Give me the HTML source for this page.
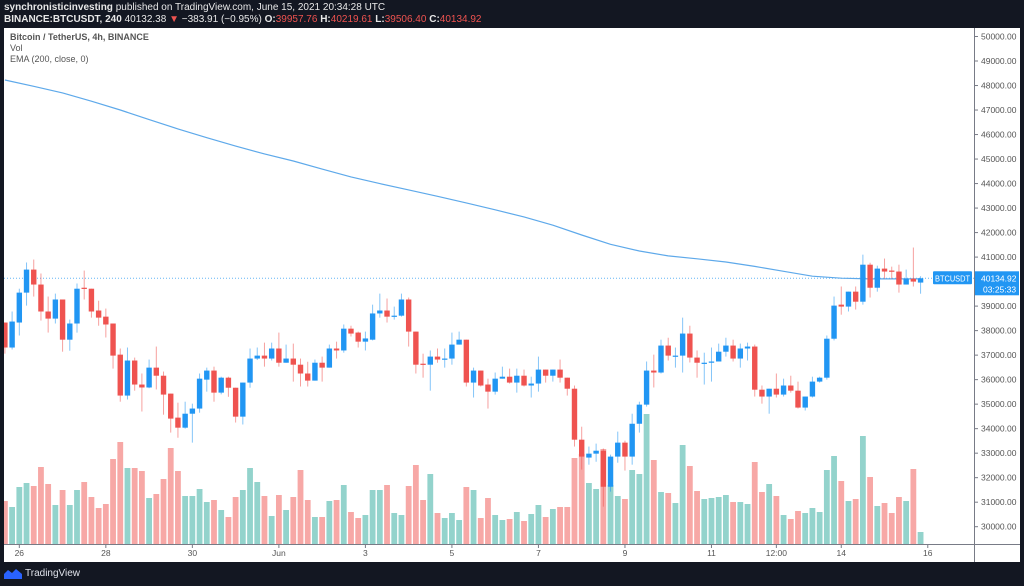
<!DOCTYPE html>
<html><head><meta charset="utf-8"><style>
html,body{margin:0;padding:0;background:#131722;width:1024px;height:586px;overflow:hidden;font-family:"Liberation Sans",sans-serif}
#hdr{position:absolute;left:4px;top:2px;color:#e8e8e8;font-size:10px;line-height:12px;white-space:nowrap}
.r{color:#ef5350}
#panel{position:absolute;left:4px;top:28px;width:1016px;height:534px;background:#fff}
svg{position:absolute;left:0;top:0}
#foot{position:absolute;left:4px;top:568px;color:#e0e3eb;font-size:10px;display:flex;align-items:center;gap:3px}
</style></head><body>
<div id="hdr"><div><b>synchronisticinvesting</b> published on TradingView.com, June 15, 2021 20:34:28 UTC</div><div><b>BINANCE:BTCUSDT, 240</b> 40132.38 <span class="r">▼</span> −383.91 (−0.95%) <b>O:</b><span class="r">39957.76</span> <b>H:</b><span class="r">40219.61</span> <b>L:</b><span class="r">39506.40</span> <b>C:</b><span class="r">40134.92</span></div></div>
<div id="panel"></div>
<svg id="chart" width="1024" height="586"></svg>
<div id="foot"><svg style="position:static" width="18" height="11" viewBox="0 0 18 11"><path d="M0 11 L0 6 L4 2 L8 5 L12 1 L18 6 L18 11 Z" fill="#2962ff"/></svg><span>TradingView</span></div>
<script>
const opens=[38330,37310,38330,39550,40490,39880,38780,38490,39270,37630,38290,39750,39710,38820,38570,38290,37020,35350,36780,35800,35680,36490,36160,35430,34450,34040,34610,34820,36000,36370,35470,36080,35670,34490,35880,36860,36980,36860,37270,36690,36860,36610,36250,35960,36690,36490,37270,37190,38080,37920,37550,37630,38700,38820,38570,38610,39270,37960,36650,36610,36940,36820,36860,37430,37630,35880,36370,35800,35510,36040,36120,35880,36160,35760,35840,36410,36160,36410,36080,35630,33550,32820,32980,33100,31630,32860,33430,32860,34200,34980,36370,36290,37390,36940,36980,37880,36900,36650,36690,36740,37140,37390,36860,37270,37350,35590,35310,35630,35390,35760,35550,34860,35310,35920,36080,37670,39060,38980,39590,39180,40690,39750,40530,40450,40410,39880,40120,39960];
const closes=[37310,38370,39550,40490,39880,38780,38490,39270,37630,38290,39710,39700,38780,38530,38250,36980,35350,36780,35800,35680,36490,36160,35390,34410,34040,34610,34820,36040,36370,35470,36080,35670,34490,35880,36860,36980,36860,37270,36690,36860,36610,36250,35960,36690,36490,37270,37190,38080,37880,37550,37680,38700,38820,38570,38610,39270,37960,36610,36610,36940,36820,36860,37430,37630,35880,36370,35760,35510,36040,36120,35880,36160,35760,35840,36410,36160,36410,36080,35630,33550,32860,32980,33100,31630,32860,33430,32860,34200,34980,36370,36290,37390,36980,36980,37880,36900,36690,36690,36740,37140,37390,36860,37270,37350,35590,35310,35630,35390,35760,35550,34860,35310,35920,36080,37670,39020,38980,39590,39180,40690,39750,40530,40410,40410,39880,40120,40000,40135];
const highs=[38330,38780,39710,40780,40900,40330,39390,39510,39270,38450,39920,40450,39710,39220,38900,38290,37270,37310,36900,36250,36820,37350,36330,35430,35060,35100,35020,36250,36490,36530,36120,36120,35670,35880,37270,37310,37510,37510,37920,37430,37470,36860,36730,36820,36940,37430,37550,38250,38200,37960,37960,39060,39510,39310,38980,39510,39350,37960,37060,37190,37270,37270,37920,37960,37630,36490,36370,36040,36290,36530,36450,36450,36410,36120,36940,36410,36410,36820,36080,35760,34080,33270,33390,33190,32940,33880,33510,34610,35100,36740,37020,37630,37710,37310,38530,38200,37190,37100,37310,37470,37710,37630,37470,37510,37430,35760,35630,36250,36040,36160,35920,35310,36120,36120,37800,39390,39800,39590,39800,41100,40770,40650,40940,40610,40690,40490,41390,40220];
const lows=[37060,37230,37800,39020,39390,38410,37920,38290,37140,37180,37920,39270,38530,38200,37720,36450,35100,35190,35550,34700,35650,35600,34570,33840,33630,34000,33430,34650,35510,35100,35400,35300,34250,34170,35670,36800,36530,36780,36530,36690,35920,35720,35720,35960,35920,36490,36860,37100,37760,37310,37190,37600,38530,38330,38450,38570,37350,36250,36080,35550,36690,36490,36610,37430,35720,35270,35720,34820,35390,36040,35840,35470,35720,35270,35510,35880,35920,35880,35350,33270,32330,32530,32650,30820,31430,32610,32290,32530,33840,34900,35680,36250,36780,36490,36290,36700,36080,35800,35920,36740,36940,36740,36490,36780,35310,35020,34610,35270,35310,35470,34820,34740,35270,35880,36000,37600,38650,38780,38860,39060,39350,39590,40120,40120,39550,39880,39800,39506];
const volumes=[43,37,57,61,58,77,60,39,54,39,54,62,47,36,40,85,102,76,76,73,46,50,65,96,73,48,48,55,42,44,34,27,47,54,76,62,48,28,49,34,47,74,44,27,27,43,44,59,32,26,29,54,54,59,31,29,58,79,44,70,31,26,31,24,57,54,26,46,29,24,25,32,23,30,39,27,35,37,37,86,90,61,55,95,59,48,45,74,70,130,84,52,51,41,99,78,53,45,46,47,49,42,42,40,82,52,60,48,29,25,33,31,36,32,74,88,63,43,45,108,67,38,41,31,47,43,75,12];
const emaIdx=[0,4,8,12,16,20,24,28,32,36,40,44,48,52,56,60,64,68,72,76,80,84,88,92,96,100,104,108,112,116,120,124,127];
const emaVal=[48225,47970,47700,47360,47000,46610,46230,45870,45530,45210,44920,44590,44270,44000,43740,43480,43210,42930,42640,42300,41900,41520,41250,41050,40930,40800,40620,40420,40220,40140,40110,40110,40110];
const priceTicks=[30000,31000,32000,33000,34000,35000,36000,37000,38000,39000,40000,41000,42000,43000,44000,45000,46000,47000,48000,49000,50000];
const timeLabels=["26","28","30","Jun","3","5","7","9","11","12:00","14","16"];
const timeIdx=[2,14,26,38,50,62,74,86,98,107,116,128];
const lastPrice=40134.92;

const NS="http://www.w3.org/2000/svg";
const svg=document.getElementById('chart');
const X=i=>4.9+i*7.21;
const Y=p=>281.6-(p-40000)/40.8;
const V=v=>544-v;
function mk(tag,attrs,parent){const e=document.createElementNS(NS,tag);for(const k in attrs)e.setAttribute(k,attrs[k]);(parent||svg).appendChild(e);return e;}
const clip=mk('clipPath',{id:'cp'});mk('rect',{x:4,y:28,width:970,height:516},clip);
const g=mk('g',{'clip-path':'url(#cp)'});


volumes.forEach((v,i)=>{const up=closes[i]>=opens[i];
 const r=mk('rect',{x:X(i)-2.9,y:V(v),width:5.8,height:v,fill:up?'#93d3cc':'#f7a8a6'},g);
 
 });
const pl=mk('line',{x1:4,x2:974,y1:Y(lastPrice),y2:Y(lastPrice),stroke:'#64b5f6','stroke-width':1,'stroke-dasharray':'1,2'},g);


let d='';emaIdx.forEach((ix,k)=>{d+=(k?'L':'M')+X(ix).toFixed(1)+' '+Y(emaVal[k]).toFixed(1);});
const ema=mk('path',{d:d,fill:'none',stroke:'#5ea9ea','stroke-width':1.2,'stroke-linejoin':'round'},g);


opens.forEach((o,i)=>{const c=closes[i];const up=c>=o;const col=up?'#2196f3':'#ef5350';const x=X(i);
 const w=mk('line',{x1:x,x2:x,y1:Y(highs[i]),y2:Y(lows[i]),stroke:col,'stroke-width':1,opacity:0.55},g);
 
 
 const t=Math.min(Y(o),Y(c));const h=Math.max(1.2,Math.abs(Y(o)-Y(c)));
 const b=mk('rect',{x:x-2.7,y:t,width:5.4,height:h,fill:col},g);
 
 });
const ax=mk('line',{x1:974.5,x2:974.5,y1:28,y2:562,stroke:'#787b86','stroke-width':1});


const bx=mk('line',{x1:4,x2:1020,y1:544.5,y2:544.5,stroke:'#787b86','stroke-width':1});


priceTicks.forEach(p=>{const y=Y(p);
 const tk=mk('line',{x1:975,x2:978,y1:y,y2:y,stroke:'#787b86'});
 
 
 const t=mk('text',{x:981,y:y+3,'font-size':8.5,fill:'#555','font-family':'Liberation Sans, sans-serif'});
 t.textContent=p.toFixed(2);
 
 });
timeLabels.forEach((s,k)=>{const x=X(timeIdx[k]);
 const tk=mk('line',{x1:x,x2:x,y1:545,y2:548,stroke:'#787b86'});
 
 
 const t=mk('text',{x:x,y:556,'font-size':8.5,fill:'#555','text-anchor':'middle','font-family':'Liberation Sans, sans-serif'});
 t.textContent=s;
 
 });
[["Bitcoin / TetherUS, 4h, BINANCE",40],["Vol",51],["EMA (200, close, 0)",62]].forEach(([s,y],k)=>{
 const t=mk('text',{x:10,y:y,'font-size':9,fill:'#555','font-weight':k==0?'bold':'normal','font-family':'Liberation Sans, sans-serif'});
 t.textContent=s;
 
 });
const ly=Y(lastPrice);
const lb=mk('rect',{x:933,y:ly-7,width:39,height:13,fill:'#2196f3',rx:1});


const lt=mk('text',{x:952.5,y:ly+3,'font-size':8,fill:'#fff','text-anchor':'middle','font-family':'Liberation Sans, sans-serif','textLength':35,'lengthAdjust':'spacingAndGlyphs'});lt.textContent='BTCUSDT';


const pb=mk('rect',{x:975,y:ly-7,width:44,height:24,fill:'#2196f3'});


const pt=mk('text',{x:981,y:ly+3,'font-size':8.5,fill:'#fff','font-family':'Liberation Sans, sans-serif'});pt.textContent=lastPrice.toFixed(2);


const ct=mk('text',{x:983,y:ly+14,'font-size':8.5,fill:'#fff','font-family':'Liberation Sans, sans-serif'});ct.textContent='03:25:33';


</script>
</body></html>
